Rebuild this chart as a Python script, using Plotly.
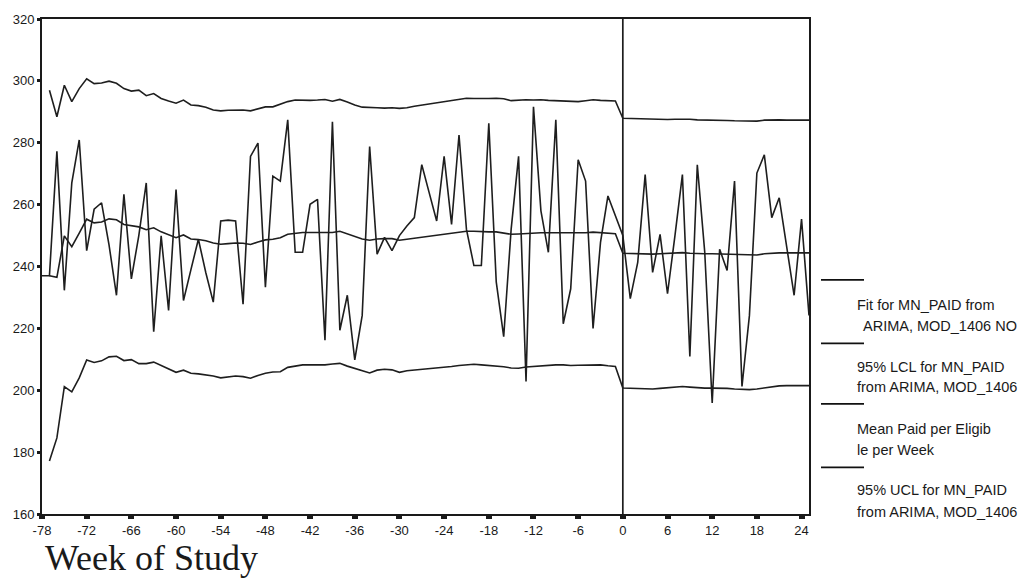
import plotly.graph_objects as go

# ---------------- data ----------------
weeks_mean = list(range(-78, 26))
mean_paid = [
    237.0, 237.0, 277.2, 232.3, 267.0, 280.9, 245.1, 258.5, 260.6, 247.0,   # -78..-69
    230.7, 263.3, 236.0, 250.0, 267.0, 218.9, 249.9, 225.8, 264.9, 229.0,   # -68..-59
    239.0, 248.8, 238.0, 228.5, 254.7, 255.0, 254.7, 227.8, 275.6, 279.9,   # -58..-49
    233.3, 269.2, 267.6, 287.4, 244.6, 244.6, 260.1, 261.7, 216.2, 286.8,   # -48..-39
    219.4, 230.7, 209.8, 224.2, 278.8, 244.0, 249.4, 245.1, 250.0, 253.1,   # -38..-29
    255.8, 272.9, 263.8, 254.7, 275.6, 253.6, 282.5, 252.0, 240.3, 240.3,   # -28..-19
    286.3, 235.0, 217.3, 252.0, 275.6, 202.8, 291.6, 258.0, 244.6, 287.4,   # -18..-9
    221.5, 232.8, 274.5, 267.6, 220.0, 247.8, 262.8, 256.3, 250.0, 229.6,   # -8..1
    241.3, 269.7, 238.1, 250.4, 231.2, 250.0, 269.7, 210.9, 272.9, 244.6,   # 2..11
    195.9, 245.6, 238.7, 267.6, 201.2, 224.2, 270.2, 276.1, 255.8, 262.2,   # 12..21
    246.6, 230.7, 255.3, 224.2,                                             # 22..25
]

weeks_model = list(range(-77, 26))
fit = [
    237.0, 236.5, 249.9, 246.4, 250.8, 255.3, 254.1, 254.4, 255.4,          # -77..-69
    255.1, 253.6, 253.3, 252.8, 251.9, 252.5, 251.2, 250.3, 249.3, 250.2,   # -68..-59
    248.9, 248.7, 248.3, 247.6, 247.2, 247.4, 247.6, 247.5, 247.1, 247.9,   # -58..-49
    248.6, 248.8, 249.3, 250.4, 250.8, 251.0, 251.0, 251.0, 251.1, 251.0,   # -48..-39
    251.4, 250.5, 249.7, 248.9, 248.5, 248.9, 249.0, 249.0, 248.5, 248.8,   # -38..-29
    249.2, 249.5, 249.8, 250.1, 250.4, 250.7, 251.1, 251.4, 251.4, 251.2,   # -28..-19
    251.2, 251.2, 250.9, 250.4, 250.5, 250.7, 250.8, 250.9, 250.9, 250.9,   # -18..-9
    250.9, 250.7, 250.7, 250.9, 251.1, 251.0, 250.8, 250.6, 244.3, 244.2,   # -8..1
    244.1, 244.1, 244.0, 244.1, 244.2, 244.3, 244.5, 244.3, 244.1, 244.1,   # 2..11
    244.1, 244.0, 243.9, 243.8, 243.7, 243.6, 243.7, 244.1, 244.3, 244.4,   # 12..21
    244.4, 244.4, 244.4, 244.4,                                             # 22..25
]
lcl = [
    177.1, 184.6, 201.2, 199.5, 204.0, 209.8, 209.0, 209.5, 210.8,          # -77..-69
    211.0, 209.6, 209.9, 208.6, 208.6, 209.1, 208.0, 207.0, 205.8, 206.5,   # -68..-59
    205.5, 205.3, 205.0, 204.6, 204.0, 204.3, 204.6, 204.4, 203.9, 204.8,   # -58..-49
    205.5, 205.9, 206.0, 207.4, 207.8, 208.2, 208.2, 208.2, 208.2, 208.5,   # -48..-39
    208.7, 207.8, 207.1, 206.2, 205.6, 206.5, 206.8, 206.6, 205.8, 206.3,   # -38..-29
    206.5, 206.7, 207.0, 207.2, 207.4, 207.7, 208.0, 208.3, 208.4, 208.2,   # -28..-19
    208.0, 208.0, 207.6, 207.2, 207.1, 207.5, 207.7, 207.9, 208.0, 208.2,   # -18..-9
    208.2, 208.0, 208.1, 208.2, 208.2, 208.2, 207.9, 207.7, 200.7, 200.6,   # -8..1
    200.5, 200.4, 200.4, 200.6, 200.8, 201.0, 201.2, 201.0, 200.8, 200.7,   # 2..11
    200.7, 200.7, 200.6, 200.4, 200.3, 200.2, 200.4, 200.8, 201.2, 201.4,   # 12..21
    201.5, 201.5, 201.5, 201.5,                                             # 22..25
]
ucl = [
    297.0, 288.4, 298.6, 293.3, 297.5, 300.7, 299.1, 299.3, 299.9,          # -77..-69
    299.2, 297.5, 296.7, 297.0, 295.2, 295.9, 294.3, 293.5, 292.8, 293.8,   # -68..-59
    292.2, 292.0, 291.5, 290.6, 290.3, 290.5, 290.6, 290.6, 290.3, 290.9,   # -58..-49
    291.6, 291.6, 292.5, 293.3, 293.8, 293.7, 293.7, 293.8, 294.0, 293.4,   # -48..-39
    294.0, 293.2, 292.2, 291.5, 291.3, 291.3, 291.2, 291.3, 291.1, 291.3,   # -38..-29
    291.8, 292.2, 292.6, 293.0, 293.3, 293.7, 294.1, 294.4, 294.3, 294.2,   # -28..-19
    294.3, 294.4, 294.2, 293.6, 293.8, 293.9, 293.8, 293.9, 293.7, 293.6,   # -18..-9
    293.6, 293.4, 293.3, 293.6, 293.9, 293.7, 293.6, 293.5, 287.9, 287.8,   # -8..1
    287.7, 287.7, 287.6, 287.6, 287.5, 287.6, 287.7, 287.6, 287.4, 287.4,   # 2..11
    287.4, 287.3, 287.2, 287.1, 287.0, 286.9, 287.0, 287.3, 287.4, 287.4,   # 12..21
    287.3, 287.3, 287.3, 287.3,                                             # 22..25
]

x_ticks = list(range(-78, 25, 6))
y_ticks = list(range(160, 321, 20))
intervention_week = 0

legend_entries = [
    ("Fit for MN_PAID from", "ARIMA, MOD_1406 NO"),
    ("95% LCL for MN_PAID", "from ARIMA, MOD_1406"),
    ("Mean Paid per Eligib", "le per Week"),
    ("95% UCL for MN_PAID", "from ARIMA, MOD_1406"),
]
x_title = "Week of Study"

# ---------------- figure ----------------
W, H = 1024, 584
L, R, T, B = 42, 809, 15, 514          # plot area in pixels
pw, ph = R - L, B - T


def px(xp):
    return (xp - L) / pw


def py(yp):
    return (B - yp) / ph


line_style = dict(color="#1e1e1e", width=1.6)

fig = go.Figure()
fig.add_trace(go.Scatter(x=weeks_model, y=fit, mode="lines", line=line_style,
                         name="Fit", showlegend=False))
fig.add_trace(go.Scatter(x=weeks_model, y=lcl, mode="lines", line=line_style,
                         name="LCL", showlegend=False))
fig.add_trace(go.Scatter(x=weeks_mean, y=mean_paid, mode="lines", line=line_style,
                         name="Mean", showlegend=False))
fig.add_trace(go.Scatter(x=weeks_model, y=ucl, mode="lines", line=line_style,
                         name="UCL", showlegend=False))

# intervention line
fig.add_shape(type="line", xref="x", yref="paper", x0=intervention_week,
              x1=intervention_week, y0=0, y1=1,
              line=dict(color="#1e1e1e", width=1.7))

# custom legend (line above two text rows)
legend_line_y = [278, 342, 403, 467]
text_rows_y = [(303, 324), (366, 386), (428, 449), (490, 512)]
text_rows_x = [(855, 861), (855, 855), (855, 855), (855, 855)]
for i, (t1, t2) in enumerate(legend_entries):
    yl = legend_line_y[i]
    fig.add_shape(type="line", xref="paper", yref="paper",
                  x0=px(821), x1=px(864), y0=py(yl), y1=py(yl),
                  line=dict(color="#111", width=1.8))
    for txt, yy, xx in ((t1, text_rows_y[i][0], text_rows_x[i][0]),
                        (t2, text_rows_y[i][1], text_rows_x[i][1])):
        fig.add_annotation(text=txt, xref="paper", yref="paper",
                           x=px(xx), y=py(yy), xanchor="left", yanchor="middle",
                           showarrow=False,
                           font=dict(family="Liberation Sans, Arial", size=14.5,
                                     color="#1a1a1a"))

fig.add_annotation(text=x_title, xref="paper", yref="paper",
                   x=px(44), y=py(537), xanchor="left", yanchor="top",
                   showarrow=False, borderpad=0,
                   font=dict(family="Liberation Serif, Times New Roman", size=36,
                             color="#1a1a1a"))

axis_font = dict(family="Liberation Sans, Arial", size=13, color="#1a1a1a")
fig.update_layout(
    width=W, height=H,
    margin=dict(l=L, r=W - R, t=T, b=H - B, pad=0),
    paper_bgcolor="white", plot_bgcolor="white",
    showlegend=False,
    xaxis=dict(range=[-78, 25], tickvals=x_ticks, ticktext=[str(v) for v in x_ticks],
               showgrid=False, zeroline=False, showline=True, mirror=True,
               linecolor="#1a1a1a", linewidth=1.8,
               ticks="outside", ticklen=3, tickwidth=6, tickcolor="#1a1a1a",
               tickfont=axis_font),
    yaxis=dict(range=[160, 320], tickvals=y_ticks, ticktext=[str(v) for v in y_ticks],
               showgrid=False, zeroline=False, showline=True, mirror=True,
               linecolor="#1a1a1a", linewidth=1.8,
               ticks="outside", ticklen=3, tickwidth=3, tickcolor="#1a1a1a",
               tickfont=axis_font),
)

fig.write_html("out.html",
               config={"displayModeBar": False},
               post_script="document.body.style.margin='0';"
                           "document.body.style.overflow='hidden';")
